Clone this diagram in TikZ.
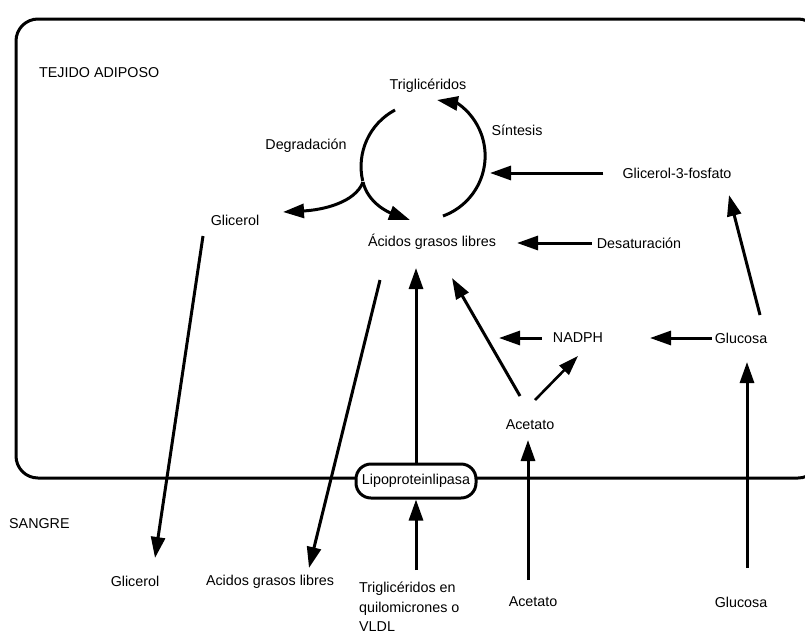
\documentclass[tikz,border=0pt]{standalone}
\usepackage{fontspec}
\setmainfont{Liberation Sans}
\usetikzlibrary{arrows.meta,calc}
\begin{document}
\begin{tikzpicture}[x=1pt,y=-1pt,
  lbl/.style={font=\fontsize{14.3}{16}\selectfont, inner sep=1pt},
  ln/.style={line width=3pt},
  arr/.style={line width=3pt,-{Triangle[length=21pt,width=14pt]}},
  thinarr/.style={line width=2.6pt,-{Triangle[length=20pt,width=13pt]}}]
\useasboundingbox (0,0) rectangle (805,635);
\fill[white] (0,0) rectangle (805,635);
% cell boundary
\begin{scope}
\clip (0,0) rectangle (805,635);
\draw[ln] (16,19) [rounded corners=22pt] -- (820,19) -- (820,478) -- (16,478) -- cycle;
\end{scope}
\node[draw,line width=3pt,fill=white,rounded corners=15pt,minimum width=120pt,minimum height=34pt,inner sep=1pt,lbl] (lpl) at (416,481) {Lipoproteinlipasa};

% labels
\node[lbl,anchor=west] (tej) at (38,73) {TEJIDO ADIPOSO};
\node[lbl] (tri) at (428,86) {Triglicéridos};
\node[lbl] (sin) at (517,130) {Síntesis};
\node[lbl] (deg) at (306,146) {Degradación};
\node[lbl] (g3p) at (677,173) {Glicerol-3-fosfato};
\node[lbl] (gli) at (235,220) {Glicerol};
\node[lbl] (agl) at (432,242) {Ácidos grasos libres};
\node[lbl] (des) at (639,243) {Desaturación};
\node[lbl] (nad) at (578,338) {NADPH};
\node[lbl] (glu) at (741,338) {Glucosa};
\node[lbl] (ace) at (530,425) {Acetato};
\node[lbl,anchor=west] (san) at (8,524) {SANGRE};
\node[lbl] (bgli) at (135,581) {Glicerol};
\node[lbl] (bagl) at (270,582) {Acidos grasos libres};
\node[lbl,anchor=north west,align=left,font=\fontsize{14.3}{19.5}\selectfont] (btri) at (358,581) {Triglicéridos en\\quilomicrones o\\VLDL};
\node[lbl] (bace) at (533,602) {Acetato};
\node[lbl] (bglu) at (741,602) {Glucosa};

% cycle
\coordinate (junc) at (363,182);
\draw[ln] (395,110) arc[start angle=242,end angle=167,radius=64];
\draw[arr] (junc) .. controls (368,203) and (388,212) .. (410,220);
\draw[arr] (junc) .. controls (355,203) and (322,210) .. (283,212);
\draw[arr] (443,216) arc[start angle=70,end angle=-55,radius=64] -- (437,100);

% arrows inside
\draw[arr] ($(g3p.west)+(-18,0)$) -- (490,173);
\draw[arr] ($(des.west)+(-4,0)$) -- (517,243);
\draw[arr] (203,236) -- (155,558);
\draw[arr] (380,280) -- (309,568);
\draw[arr] (lpl.north) -- (416,268);
\draw[arr] (416,570) -- (lpl.south);
\draw[arr] (520,396) -- (452,278);
\draw[thinarr] (535,400) -- (578,356);
\draw[arr] ($(nad.west)+(-10,0)$) -- (499,338);
\draw[arr] ($(glu.west)+(-2,0)$) -- (650,338);
\draw[arr] (760,315) -- (729,195);
\draw[arr] (747,568) -- (747,362);
\draw[arr] (528,580) -- (528,440);
\end{tikzpicture}
\end{document}
